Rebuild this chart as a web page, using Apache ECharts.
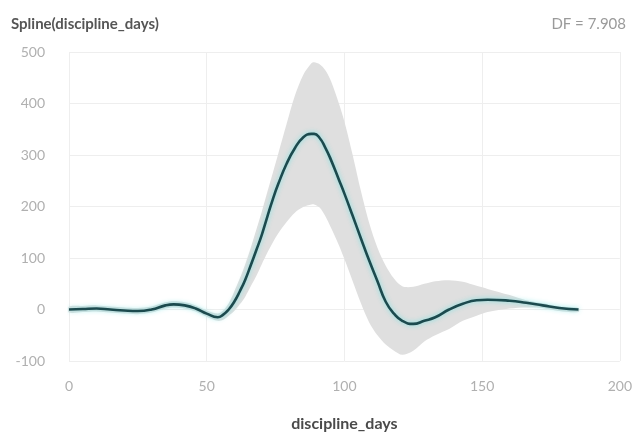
<!DOCTYPE html>
<html>
<head>
<meta charset="utf-8">
<script src="https://cdn.jsdelivr.net/npm/echarts@6/dist/echarts.min.js"></script>
<style>
html,body{margin:0;padding:0;background:#fff;}
#chart{width:635px;height:441px;}
</style>
</head>
<body>
<div id="chart"></div>
<script>
// x positions (discipline_days)
var xs = [0,5,10,15,20,25,30,35,38,42,46,50,54,56,58,60,62,64,66,68,70,72,74,76,79,82,85,88,89,91,93,95,98,100,103,106,109,112,115,118,121,125,129,133,138,143,148,152,160,166,172,178,185];
// fitted spline
var fit = [0,1,2,0,-2,-3,0,8,10,8,2,-8,-15,-10,0,15,35,58,86,115,145,180,214,244,283,313,334,341,341,333,315,292,252,225,182,138,95,55,15,-8,-22,-28,-22,-15,0,11,18,19,17,13,8,3,0];
// confidence band
var upper = [6,7,8,6,4,3,6,14,16,14,8,-2,-8,-2,12,35,60,88,120,155,190,228,265,303,360,415,455,478,480,476,465,445,400,365,300,230,168,120,85,60,45,44,50,55,57,54,46,40,28,18,12,6,3];
var lower = [-6,-5,-4,-6,-8,-9,-6,2,4,2,-4,-14,-22,-20,-12,-3,10,25,45,65,88,110,130,148,170,188,199,204,204,198,182,160,125,98,55,12,-25,-50,-68,-80,-88,-80,-62,-50,-38,-22,-12,-5,2,4,3,-3,-5];
var yTicks = [-100,0,100,200,300,400,500];
var xTicks = [0,50,100,150,200];
var titleText = 'Spline(discipline_days)';
var dfText = 'DF = 7.908';
var xName = 'discipline_days';

var bandData = xs.map(function(x,i){return [x, lower[i], upper[i]];});
var fitData = xs.map(function(x,i){return [x, fit[i]];});

function renderBand(params, api){
  if (params.dataIndex !== 0) return null;
  var pts = [];
  var i;
  for (i = 0; i < xs.length; i++) pts.push(api.coord([xs[i], upper[i]]));
  for (i = xs.length - 1; i >= 0; i--) pts.push(api.coord([xs[i], lower[i]]));
  return {
    type:'polygon',
    shape:{points:pts, smooth:0.3},
    style:{fill:'#dfdfdf'},
    silent:true
  };
}

var chart = echarts.init(document.getElementById('chart'), null, {renderer:'canvas'});
chart.setOption({
  animation:false,
  backgroundColor:'#ffffff',
  title:[
    {text:titleText, left:6, top:12, textStyle:{fontFamily:'Lato', fontWeight:'bold', fontSize:15, color:'#555555'}},
    {text:dfText, right:4, top:12, textStyle:{fontFamily:'Lato', fontWeight:'normal', fontSize:15, color:'#9a9a9a'}}
  ],
  grid:{left:69, right:15, top:52, bottom:80, containLabel:false},
  xAxis:{
    type:'value', min:xTicks[0], max:xTicks[xTicks.length-1], interval:50,
    name:xName, nameLocation:'middle', nameGap:55,
    nameTextStyle:{fontFamily:'Lato', fontWeight:'bold', fontSize:16, color:'#4a4a4a'},
    axisLine:{show:false}, axisTick:{show:false},
    axisLabel:{margin:18, fontFamily:'Lato', fontSize:14, color:'#b0b0b0'},
    splitLine:{show:true, lineStyle:{color:'#eeeeee', width:1}}
  },
  yAxis:{
    type:'value', min:yTicks[0], max:yTicks[yTicks.length-1], interval:100,
    axisLine:{show:false}, axisTick:{show:false},
    axisLabel:{margin:24, fontFamily:'Lato', fontSize:14, color:'#b0b0b0'},
    splitLine:{show:true, lineStyle:{color:'#eeeeee', width:1}}
  },
  series:[
    {type:'custom', data:bandData, encode:{x:0, y:[1,2]}, renderItem:renderBand, silent:true, z:1},
    {type:'line', data:fitData, smooth:0.5, symbol:'none', z:3,
     lineStyle:{color:'#1c4a4e', width:2.6, shadowColor:'rgba(110,225,225,0.9)', shadowBlur:5}}
  ]
});
</script>
</body>
</html>
